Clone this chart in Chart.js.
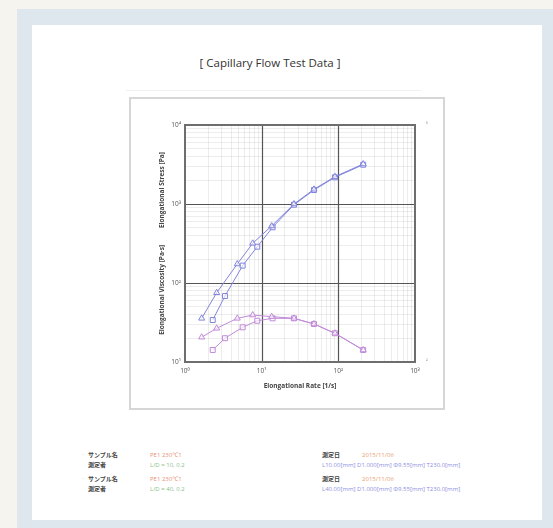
<!DOCTYPE html>
<html>
<head>
<meta charset="utf-8">
<script src="https://cdn.jsdelivr.net/npm/chart.js@4"></script>
<style>
  html, body { margin: 0; padding: 0; }
  body { width: 553px; height: 528px; background: #f6f4ee; position: relative; overflow: hidden;
         font-family: 'Open Sans', 'Noto Sans', sans-serif; }
  .frame { position: absolute; left: 17px; top: 9px; right: 0; bottom: 0; background: #dee7ed; }
  .panel { position: absolute; left: 32px; top: 25px; width: 510px; height: 495px; background: #fff; }
  .title { position: absolute; left: 0; width: 540px; top: 55px; text-align: center;
           font-size: 11.5px; color: #333; }
  .rule { position: absolute; left: 126px; width: 295px; top: 90px; height: 1px; background: #f0f0f0; }
  .chart-box { position: absolute; left: 129px; top: 97px; width: 312px; height: 309px;
               border: 2px solid #d6d6d6; background: #fff; }
  .chart-box canvas { display: block; }
  .legend { position: absolute; font-size: 6px; line-height: 10px; white-space: nowrap; }
  .jp { font-family: 'Noto Sans CJK JP', sans-serif; font-weight: bold; color: #444; }
  .dot { position: absolute; left: 82px; font-size: 6px; color: #999; }
</style>
</head>
<body>
<div class="frame"></div>
<div class="panel"></div>
<div class="title">[ Capillary Flow Test Data ]</div>
<div class="rule"></div>
<div class="chart-box"><canvas id="flowChart" width="312" height="309"></canvas></div>

<div class="dot" style="top:450px">·</div>
<div class="legend jp" style="left:88px; top:450px">サンプル名<br>測定者</div>
<div class="legend" style="left:150px; top:450px"><span style="color:#e8927a">PE1 230℃1</span><br><span style="color:#8cc08a">L/D = 10, 0.2</span></div>
<div class="dot" style="top:474px">·</div>
<div class="legend jp" style="left:88px; top:474px">サンプル名<br>測定者</div>
<div class="legend" style="left:150px; top:474px"><span style="color:#e8927a">PE1 230℃1</span><br><span style="color:#8cc08a">L/D = 40, 0.2</span></div>

<div class="legend" style="left:322px; top:450px"><span class="jp">測定日</span><span style="color:#e8a070; margin-left:22px">2015/11/06</span><br><span style="color:#8d8fe0">L10.00[mm] D1.000[mm] Φ9.55[mm] T230.0[mm]</span></div>
<div class="legend" style="left:322px; top:474px"><span class="jp">測定日</span><span style="color:#e8a070; margin-left:22px">2015/11/06</span><br><span style="color:#8d8fe0">L40.00[mm] D1.000[mm] Φ9.55[mm] T230.0[mm]</span></div>

<script>
// elongational rate [1/s] for the two dies
const rateA = [1.65, 2.59, 4.81, 7.64, 13.5, 26.4, 48.1, 90.3, 211];
const rateB = [2.30, 3.32, 5.65, 8.77, 13.9, 26.4, 48.1, 90.3, 211];
// elongational stress [Pa]
const stressA = [35.7, 75.3, 174, 318, 527, 1000, 1535, 2218, 3206];
const stressB = [34.0, 68.4, 166, 288, 507, 979, 1503, 2178, 3141];
// elongational viscosity [Pa·s]
const viscA = [20.6, 26.7, 35.7, 39.3, 37.5, 35.7, 30.3, 23.1, 14.2];
const viscB = [14.2, 20.0, 27.5, 33.3, 35.7, 35.7, 30.3, 23.1, 14.2];

// axis decades and labels
const xDecades = [1, 10, 100, 1000];
const xTickLabels = ['10⁰', '10¹', '10²', '10³'];
const yDecades = [10, 100, 1000, 10000];
const yTickLabels = ['10¹', '10²', '10³', '10⁴'];
const minorSteps = [2, 3, 4, 5, 6, 7, 8, 9];

const stressColor = '#8284dc';
const viscColor = '#c08ad8';

function points(xs, ys) {
    return xs.map((x, i) => ({ x: x, y: ys[i] }));
}

function logTicks(decades) {
    const vals = [];
    decades.forEach((d, i) => {
        vals.push(d);
        if (i < decades.length - 1) minorSteps.forEach(m => vals.push(d * m));
    });
    return vals.map(v => ({ value: v }));
}

function labelFor(decades, labels) {
    return function (value) {
        const idx = decades.indexOf(value);
        return idx >= 0 ? labels[idx] : '';
    };
}

// minor lines only; decade lines are drawn on top by the plugin below
function minorColor(decades) {
    return ctx => decades.indexOf(ctx.tick && ctx.tick.value) >= 0 ? 'rgba(0,0,0,0)' : 'rgba(0,0,0,0.09)';
}

function series(label, data, color, style) {
    return {
        label: label,
        data: data,
        borderColor: color,
        borderWidth: 1,
        pointStyle: style,
        pointRadius: 3.5,
        pointBorderWidth: 1,
        pointBorderColor: color,
        pointBackgroundColor: 'rgba(255,255,255,0.6)',
        showLine: true,
        tension: 0
    };
}

// decade grid lines and frame around the plot area
const plotFrame = {
    id: 'plotFrame',
    beforeDatasetsDraw(chart) {
        const a = chart.chartArea;
        const c = chart.ctx;
        const sx = chart.scales.x, sy = chart.scales.y;
        c.save();
        c.strokeStyle = '#555';
        c.lineWidth = 1.2;
        xDecades.slice(1, -1).forEach(v => {
            const px = Math.round(sx.getPixelForValue(v)) + 0.5;
            c.beginPath(); c.moveTo(px, a.top); c.lineTo(px, a.bottom); c.stroke();
        });
        yDecades.slice(1, -1).forEach(v => {
            const py = Math.round(sy.getPixelForValue(v)) + 0.5;
            c.beginPath(); c.moveTo(a.left, py); c.lineTo(a.right, py); c.stroke();
        });
        c.restore();
    },
    afterDatasetsDraw(chart) {
        const a = chart.chartArea;
        const c = chart.ctx;
        c.save();
        c.strokeStyle = '#6e6e6e';
        c.lineWidth = 2;
        c.strokeRect(a.left, a.top, a.right - a.left, a.bottom - a.top);
        c.restore();
    }
};

const tickFont = { family: "'Open Sans', sans-serif", size: 6.5 };
const titleFont = { family: "'Open Sans', sans-serif", size: 6.5, weight: 'bold' };

new Chart(document.getElementById('flowChart'), {
    type: 'scatter',
    data: {
        datasets: [
            series('Stress L/D=10', points(rateA, stressA), stressColor, 'triangle'),
            series('Stress L/D=40', points(rateB, stressB), stressColor, 'rect'),
            series('Viscosity L/D=10', points(rateA, viscA), viscColor, 'triangle'),
            series('Viscosity L/D=40', points(rateB, viscB), viscColor, 'rect')
        ]
    },
    options: {
        responsive: false,
        animation: false,
        layout: { padding: { top: 26, left: 0, right: 0, bottom: 18 } },
        plugins: { legend: { display: false }, tooltip: { enabled: false } },
        scales: {
            x: {
                type: 'logarithmic',
                min: 1, max: 1000,
                afterBuildTicks: s => { s.ticks = logTicks(xDecades); },
                afterFit: s => { s.height = 28; },
                ticks: { autoSkip: false, maxRotation: 0, color: '#555', font: tickFont, padding: 5,
                         callback: labelFor(xDecades, xTickLabels) },
                grid: { color: minorColor(xDecades), lineWidth: 0.8, drawTicks: false },
                border: { display: false },
                title: { display: true, text: 'Elongational Rate [1/s]', color: '#444', font: titleFont,
                         padding: { top: 2, bottom: 0 } }
            },
            y: {
                type: 'logarithmic',
                position: 'left',
                min: 10, max: 10000,
                afterBuildTicks: s => { s.ticks = logTicks(yDecades); },
                afterFit: s => { s.width = 54; },
                ticks: { autoSkip: false, color: '#555', font: tickFont, padding: 4,
                         callback: labelFor(yDecades, yTickLabels) },
                grid: { color: minorColor(yDecades), lineWidth: 0.8, drawTicks: false },
                border: { display: false },
                title: { display: true,
                         text: 'Elongational Viscosity [Pa·s]          Elongational Stress [Pa]',
                         color: '#444', font: titleFont, padding: { top: 27, bottom: 0 } }
            },
            y2: {
                type: 'logarithmic',
                position: 'right',
                min: 10, max: 10000,
                afterBuildTicks: s => { s.ticks = logTicks(yDecades); },
                afterFit: s => { s.width = 28; },
                ticks: { autoSkip: false, color: '#777', font: { family: "'Open Sans', sans-serif", size: 5 },
                         padding: 3, callback: v => (v === 10 ? '²' : v === 10000 ? '⁵' : '') },
                grid: { display: false },
                border: { display: false }
            }
        }
    },
    plugins: [plotFrame]
});
</script>
</body>
</html>
